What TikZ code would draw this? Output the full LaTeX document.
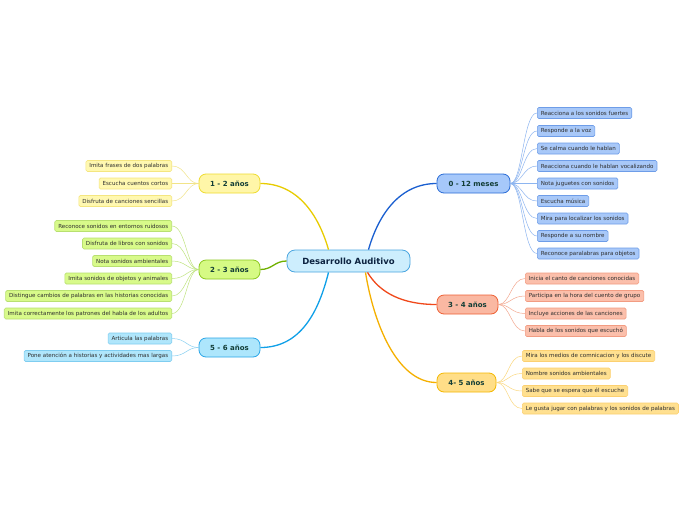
\documentclass[tikz,border=0pt]{standalone}
\usepackage{fontspec}
\setmainfont{DejaVu Sans}
\definecolor{cenF}{HTML}{CDEEFD}\definecolor{cenB}{HTML}{4AA6E0}\definecolor{cenT}{HTML}{0C2340}
\definecolor{mainT}{HTML}{123D36}\definecolor{leafT}{HTML}{2E2E2E}
% 0-12 blue
\definecolor{aL}{HTML}{1A5FD0}\definecolor{aF}{HTML}{A6C8FA}\definecolor{aB}{HTML}{2A6CD6}\definecolor{aLF}{HTML}{A8C8F8}\definecolor{aLB}{HTML}{6E9DE8}\definecolor{aC}{HTML}{8DB5F0}
% 3-4 salmon
\definecolor{bL}{HTML}{F0481A}\definecolor{bF}{HTML}{FAB8A2}\definecolor{bB}{HTML}{EE6034}\definecolor{bLF}{HTML}{FBBFAB}\definecolor{bLB}{HTML}{F29C82}\definecolor{bC}{HTML}{F4A890}
% 4-5 orange-yellow
\definecolor{cL}{HTML}{F5B000}\definecolor{cF}{HTML}{FFDE88}\definecolor{cB}{HTML}{F4B800}\definecolor{cLF}{HTML}{FFE090}\definecolor{cLB}{HTML}{FCD070}\definecolor{cC}{HTML}{FBD880}
% 1-2 yellow
\definecolor{dL}{HTML}{E8CC00}\definecolor{dF}{HTML}{FFF6A8}\definecolor{dB}{HTML}{EEDC30}\definecolor{dLF}{HTML}{FFF8B0}\definecolor{dLB}{HTML}{F4E680}\definecolor{dC}{HTML}{F2E488}
% 2-3 green
\definecolor{eL}{HTML}{70B000}\definecolor{eF}{HTML}{D6FA84}\definecolor{eB}{HTML}{8CC81E}\definecolor{eLF}{HTML}{D8FA8A}\definecolor{eLB}{HTML}{B8E070}\definecolor{eC}{HTML}{C0E480}
% 5-6 light blue
\definecolor{fL}{HTML}{10A0E8}\definecolor{fF}{HTML}{ADE6FC}\definecolor{fB}{HTML}{2AA6E8}\definecolor{fLF}{HTML}{B0E6FB}\definecolor{fLB}{HTML}{7FCDF0}\definecolor{fC}{HTML}{88D0F2}
\begin{document}
\begin{tikzpicture}[x=1pt,y=-1pt,
  central/.style={draw=cenB, fill=cenF, line width=0.8pt, rounded corners=8pt, minimum width=123pt, minimum height=22pt, inner sep=0pt, font=\fontsize{8.5}{10}\selectfont\bfseries, text=cenT},
  mainnode/.style={line width=0.8pt, rounded corners=7pt, minimum height=19pt, inner sep=0pt, font=\fontsize{7}{8}\selectfont\bfseries, text=mainT},
  leaf/.style={line width=0.6pt, rounded corners=1.5pt, minimum height=11pt, inner xsep=3.5pt, inner ysep=0pt, font=\fontsize{5.55}{6.5}\selectfont, text=leafT},
  rleaf/.style={leaf, anchor=west},
  lleaf/.style={leaf, anchor=east},
  mainline/.style={line width=1.3pt},
  leafline/.style={line width=0.5pt}]
\useasboundingbox[fill=white] (0,0) rectangle (696,520);

% central and main nodes
\node[central] (c) at (348.5,261) {Desarrollo Auditivo};
\node[mainnode, fill=aF, draw=aB, minimum width=73pt] (m0) at (473.5,183.5) {0 - 12 meses};
\node[mainnode, fill=bF, draw=bB, minimum width=61pt] (m3) at (467.5,304.5) {3 - 4 años};
\node[mainnode, fill=cF, draw=cB, minimum width=59pt] (m4) at (466.5,382.5) {4- 5 años};
\node[mainnode, fill=dF, draw=dB, minimum width=61pt] (m1) at (229.5,183.5) {1 - 2 años};
\node[mainnode, fill=eF, draw=eB, minimum width=61pt] (m2) at (229.5,269.5) {2 - 3 años};
\node[mainnode, fill=fF, draw=fB, minimum width=61pt] (m5) at (229.5,347.5) {5 - 6 años};

% main connectors
\draw[mainline, aL] ([xshift=20pt]c.north) .. controls +(10,-35) and +(-37,0) .. (m0.west);
\draw[mainline, bL] ([xshift=19pt]c.south) .. controls +(12,20) and +(-35,0) .. (m3.west);
\draw[mainline, cL] ([xshift=17pt]c.south) .. controls +(8,50) and +(-40,0) .. (m4.west);
\draw[mainline, dL] ([xshift=-20pt]c.north) .. controls +(-10,-35) and +(37,0) .. (m1.east);
\draw[mainline, eL] (c.west) .. controls +(-12,0) and +(12,0) .. (m2.east);
\draw[mainline, fL] ([xshift=-20pt]c.south) .. controls +(-10,40) and +(40,0) .. (m5.east);

% 0 - 12 meses leaves
\begin{scope}[every node/.append style={fill=aLF, draw=aLB}]
\node[rleaf] (a1) at (537,113) {Reacciona a los sonidos fuertes};
\node[rleaf] (a2) at (537,131) {Responde a la voz};
\node[rleaf] (a3) at (537,148.5) {Se calma cuando le hablan};
\node[rleaf] (a4) at (537,166) {Reacciona cuando le hablan vocalizando};
\node[rleaf] (a5) at (537,183.5) {Nota juguetes con sonidos};
\node[rleaf] (a6) at (537,201) {Escucha música};
\node[rleaf] (a7) at (537,218.5) {Mira para localizar los sonidos};
\node[rleaf] (a8) at (537,236) {Responde a su nombre};
\node[rleaf] (a9) at (537,253.5) {Reconoce paralabras para objetos};
\end{scope}
\foreach \n in {a1,a2,a3,a4,a5,a6,a7,a8,a9}
  \draw[leafline, aC] (m0.east) .. controls +(12,0) and +(-14,0) .. (\n.west);

% 3 - 4 años leaves
\begin{scope}[every node/.append style={fill=bLF, draw=bLB}]
\node[rleaf] (b1) at (525,278.5) {Inicia el canto de canciones conocidas};
\node[rleaf] (b2) at (525,296) {Participa en la hora del cuento de grupo};
\node[rleaf] (b3) at (525,313.5) {Incluye acciones de las canciones};
\node[rleaf] (b4) at (525,331) {Habla de los sonidos que escuchó};
\end{scope}
\foreach \n in {b1,b2,b3,b4}
  \draw[leafline, bC] (m3.east) .. controls +(12,0) and +(-14,0) .. (\n.west);

% 4- 5 años leaves
\begin{scope}[every node/.append style={fill=cLF, draw=cLB}]
\node[rleaf] (k1) at (522,356) {Mira los medios de comnicacion y los discute};
\node[rleaf] (k2) at (522,373.5) {Nombre sonidos ambientales};
\node[rleaf] (k3) at (522,391) {Sabe que se espera que él escuche};
\node[rleaf] (k4) at (522,408.5) {Le gusta jugar con palabras y los sonidos de palabras};
\end{scope}
\foreach \n in {k1,k2,k3,k4}
  \draw[leafline, cC] (m4.east) .. controls +(12,0) and +(-14,0) .. (\n.west);

% 1 - 2 años leaves
\begin{scope}[every node/.append style={fill=dLF, draw=dLB}]
\node[lleaf] (d1) at (172,166) {Imita frases de dos palabras};
\node[lleaf] (d2) at (172,183.5) {Escucha cuentos cortos};
\node[lleaf] (d3) at (172,201) {Disfruta de canciones sencillas};
\end{scope}
\foreach \n in {d1,d2,d3}
  \draw[leafline, dC] (m1.west) .. controls +(-12,0) and +(14,0) .. (\n.east);

% 2 - 3 años leaves
\begin{scope}[every node/.append style={fill=eLF, draw=eLB}]
\node[lleaf] (e1) at (172,226) {Reconoce sonidos en entornos ruidosos};
\node[lleaf] (e2) at (172,243.5) {Disfruta de libros con sonidos};
\node[lleaf] (e3) at (172,261) {Nota sonidos ambientales};
\node[lleaf] (e4) at (172,278.5) {Imita sonidos de objetos y animales};
\node[lleaf] (e5) at (172,296) {Distingue cambios de palabras en las historias conocidas};
\node[lleaf] (e6) at (172,313.5) {Imita correctamente los patrones del habla de los adultos};
\end{scope}
\foreach \n in {e1,e2,e3,e4,e5,e6}
  \draw[leafline, eC] (m2.west) .. controls +(-12,0) and +(14,0) .. (\n.east);

% 5 - 6 años leaves
\begin{scope}[every node/.append style={fill=fLF, draw=fLB}]
\node[lleaf] (f1) at (172,338.5) {Articula las palabras};
\node[lleaf] (f2) at (172,356) {Pone atención a historias y actividades mas largas};
\end{scope}
\foreach \n in {f1,f2}
  \draw[leafline, fC] (m5.west) .. controls +(-12,0) and +(14,0) .. (\n.east);
\end{tikzpicture}
\end{document}
